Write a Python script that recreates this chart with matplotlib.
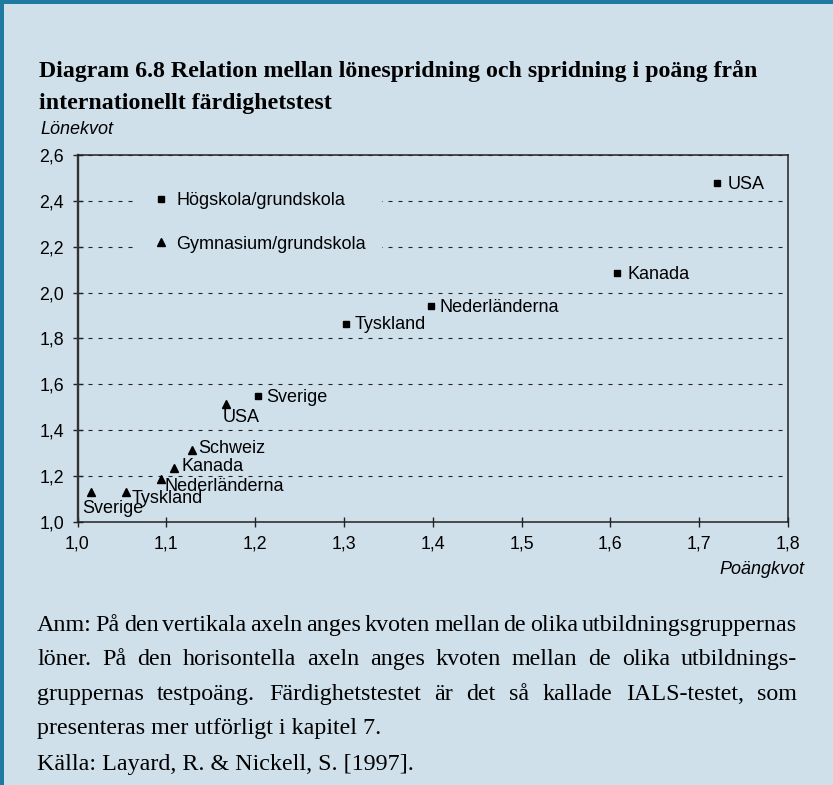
import matplotlib
matplotlib.use("Agg")
import matplotlib.pyplot as plt
from matplotlib.patches import Rectangle
from matplotlib.lines import Line2D

# ---------------- data ----------------
hog_labels = ["USA", "Kanada", "Nederländerna", "Tyskland", "Sverige"]
hog_x = [1.720, 1.607, 1.398, 1.302, 1.203]
hog_y = [2.476, 2.086, 1.941, 1.863, 1.550]

gym_labels = ["Sverige", "Tyskland", "Nederländerna", "Kanada", "Schweiz", "USA"]
gym_x = [1.015, 1.055, 1.094, 1.109, 1.129, 1.167]
gym_y = [1.131, 1.131, 1.188, 1.233, 1.313, 1.512]

series_names = ["Högskola/grundskola", "Gymnasium/grundskola"]
x_ticks = [1.0, 1.1, 1.2, 1.3, 1.4, 1.5, 1.6, 1.7, 1.8]
y_ticks = [1.0, 1.2, 1.4, 1.6, 1.8, 2.0, 2.2, 2.4, 2.6]

title_lines = ["Diagram 6.8 Relation mellan lönespridning och spridning i poäng från",
               "internationellt färdighetstest"]
note_lines = [
    "Anm: På den vertikala axeln anges kvoten mellan de olika utbildningsgruppernas",
    "löner.  På den horisontella axeln anges kvoten mellan de olika utbildnings-",
    "gruppernas testpoäng. Färdighetstestet är det så kallade IALS-testet, som",
    "presenteras mer utförligt i kapitel 7.",
]
source_line = "Källa: Layard, R. & Nickell, S. [1997]."

# label offsets in pixels (dx right, dy up) relative to marker, baseline aligned
hog_off = [(11, -6), (11, -6), (8.5, -6), (9, -5.5), (8, -6)]
gym_off = [(-9, -21.3), (5, -11.6), (4, -12), (7, -2.5), (6, -3.3), (-3, -17.4)]

# ---------------- style ----------------
W, H = 833, 785
BG = "#D0E0EB"
BORDER = "#1F7AA0"
SANS = ["Liberation Sans", "DejaVu Sans"]
SERIF = ["Liberation Serif", "DejaVu Serif"]
plt.rcParams["font.family"] = SANS
plt.rcParams["lines.scale_dashes"] = False

fig = plt.figure(figsize=(W / 100, H / 100), dpi=100, facecolor=BG)
px = 0.72  # points per pixel

# border (top + left)
fig.patches.append(Rectangle((0, 1 - 3.5 / H), 1, 3.5 / H, transform=fig.transFigure,
                             facecolor=BORDER, edgecolor="none", zorder=10))
fig.patches.append(Rectangle((0, 0), 4 / W, 1, transform=fig.transFigure,
                             facecolor=BORDER, edgecolor="none", zorder=10))

ax_l, ax_r, ax_t, ax_b = 77.5, 788, 155, 521.7
ax = fig.add_axes([ax_l / W, 1 - ax_b / H, (ax_r - ax_l) / W, (ax_b - ax_t) / H])
ax.set_facecolor(BG)
ax.set_xlim(1.0, 1.8)
ax.set_ylim(1.0, 2.6)
ax.set_xticks(x_ticks)
ax.set_yticks(y_ticks)
ax.set_xticklabels([f"{v:.1f}".replace(".", ",") for v in x_ticks])
ax.set_yticklabels([f"{v:.1f}".replace(".", ",") for v in y_ticks])
ax.tick_params(axis="both", direction="inout", length=7.2, width=1.0, color="#222222",
               labelsize=12.8, labelcolor="black")
ax.tick_params(axis="y", pad=6.2)
ax.tick_params(axis="x", pad=6.0)
for s in ["top", "right", "bottom"]:
    ax.spines[s].set_linewidth(1.1)
    ax.spines[s].set_color("#222222")
ax.spines["left"].set_linewidth(1.7)
ax.spines["left"].set_color("#333333")

ax.yaxis.grid(True, color="#222222", linewidth=0.8, linestyle=(0, (2.9, 4.3)))
ax.set_axisbelow(True)

ax.plot(hog_x, hog_y, linestyle="none", marker="s", markersize=4.3, color="black",
        zorder=5, label=series_names[0])
ax.plot(gym_x, gym_y, linestyle="none", marker="^", markersize=5.2, color="black",
        zorder=5, label=series_names[1])

for lab, x, y, (dx, dy) in zip(hog_labels, hog_x, hog_y, hog_off):
    ax.annotate(lab, (x, y), xytext=(dx * px, dy * px), textcoords="offset points",
                ha="left", va="baseline", fontsize=13, zorder=6)
for lab, x, y, (dx, dy) in zip(gym_labels, gym_x, gym_y, gym_off):
    ax.annotate(lab, (x, y), xytext=(dx * px, dy * px), textcoords="offset points",
                ha="left", va="baseline", fontsize=13, zorder=6)

handles = [Line2D([], [], linestyle="none", marker="s", markersize=4.3, color="black"),
           Line2D([], [], linestyle="none", marker="^", markersize=5.2, color="black")]
leg = ax.legend(handles, series_names, loc="upper left",
                bbox_to_anchor=((138 - ax_l) / (ax_r - ax_l), (ax_b - 176) / (ax_b - ax_t)),
                borderaxespad=0, frameon=True, facecolor=BG, edgecolor="none", framealpha=1,
                fontsize=13, handlelength=0.8, handletextpad=0.43, borderpad=0.9,
                labelspacing=1.47, numpoints=1)
leg.get_frame().set_boxstyle("square", pad=0)
leg.set_zorder(4)

# axis titles
fig.text(40.7 / W, 1 - 134 / H, "Lönekvot", fontsize=13, style="italic", ha="left", va="baseline")
fig.text(804 / W, 1 - 574 / H, "Poängkvot", fontsize=13, style="italic", ha="right", va="baseline")

# title
for i, line in enumerate(title_lines):
    fig.text(39 / W, 1 - (77 + 31.5 * i) / H, line, family=SERIF, fontsize=17.2,
             fontweight="bold", ha="left", va="baseline")

# note, justified
renderer = fig.canvas.get_renderer()
x0, x1 = 37, 797
base0 = 631
step = 34.3
NOTE_FS = 17.3
for i, line in enumerate(note_lines):
    yb = 1 - (base0 + step * i) / H
    if i < 3:
        words = line.split()
        texts = [fig.text(0, yb, w, family=SERIF, fontsize=NOTE_FS, ha="left", va="baseline")
                 for w in words]
        widths = [t.get_window_extent(renderer).width for t in texts]
        gap = (x1 - x0 - sum(widths)) / (len(words) - 1)
        xx = x0
        for t, w in zip(texts, widths):
            t.set_x(xx / W)
            xx += w + gap
    else:
        fig.text(x0 / W, yb, line, family=SERIF, fontsize=NOTE_FS, ha="left", va="baseline")
fig.text(x0 / W, 1 - (base0 + step * 3 + 36) / H, source_line, family=SERIF, fontsize=NOTE_FS,
         ha="left", va="baseline")

fig.savefig("out.png", dpi=100, facecolor=BG)
